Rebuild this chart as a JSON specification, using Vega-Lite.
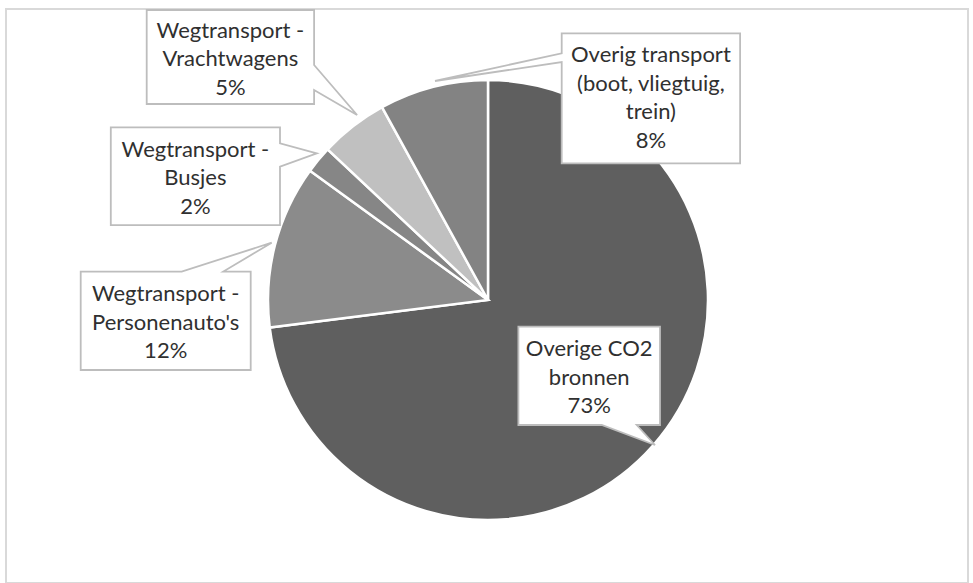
{
  "$schema": "https://vega.github.io/schema/vega-lite/v6.json",
  "width": 962,
  "height": 574,
  "padding": {"left": 6, "top": 9, "right": 5, "bottom": 0},
  "autosize": {"type": "none"},
  "background": "white",
  "config": {
    "view": {"stroke": "#d9d9d9", "strokeWidth": 2}
  },
  "data": {
    "values": [
      {"category": "Overige CO2 bronnen", "value": 73, "rank": 1, "label": ["Overige CO2", "bronnen", "73%"]},
      {"category": "Wegtransport - Personenauto's", "value": 12, "rank": 2, "label": ["Wegtransport -", "Personenauto's", "12%"]},
      {"category": "Wegtransport - Busjes", "value": 2, "rank": 3, "label": ["Wegtransport -", "Busjes", "2%"]},
      {"category": "Wegtransport - Vrachtwagens", "value": 5, "rank": 4, "label": ["Wegtransport -", "Vrachtwagens", "5%"]},
      {"category": "Overig transport (boot, vliegtuig, trein)", "value": 8, "rank": 5, "label": ["Overig transport", "(boot, vliegtuig,", "trein)", "8%"]}
    ]
  },
  "layer": [
    {
      "mark": {"type": "arc", "radius": 220, "stroke": "white", "strokeWidth": 2.5, "xOffset": 1, "yOffset": 4},
      "encoding": {
        "theta": {"field": "value", "type": "quantitative", "stack": true},
        "order": {"field": "rank", "type": "quantitative"},
        "color": {
          "field": "category",
          "type": "nominal",
          "scale": {
            "domain": ["Overige CO2 bronnen", "Wegtransport - Personenauto's", "Wegtransport - Busjes", "Wegtransport - Vrachtwagens", "Overig transport (boot, vliegtuig, trein)"],
            "range": ["#5f5f5f", "#8b8b8b", "#868686", "#c0c0c0", "#838383"]
          },
          "legend": null
        }
      }
    },
    {
      "mark": {"type": "point", "size": 4, "filled": true, "fill": "white", "stroke": "#bdbdbd", "strokeWidth": 1.8, "opacity": 1, "strokeJoin": "miter"},
      "encoding": {
        "x": {"field": "rank", "type": "quantitative", "axis": null, "scale": {"domain": [1, 2, 3, 4, 5], "range": [583.2, 159.7, 189.4, 224.4, 644.9], "zero": false, "nice": false}},
        "y": {"field": "rank", "type": "quantitative", "axis": null, "scale": {"domain": [1, 2, 3, 4, 5], "range": [366.8, 311.8, 167.2, 48, 89.3], "zero": false, "nice": false}},
        "shape": {
          "field": "category",
          "type": "nominal",
          "scale": {
            "domain": ["Overige CO2 bronnen", "Wegtransport - Personenauto's", "Wegtransport - Busjes", "Wegtransport - Vrachtwagens", "Overig transport (boot, vliegtuig, trein)"],
            "range": [
              "M-70.8,-49.2L70.8,-49.2L70.8,49.2L47.5,49.2L65.8,69.2L12.5,49.2L-70.8,49.2Z",
              "M-85,-49.2L16,-49.2L106,-78.1L57.6,-49.2L85,-49.2L85,49.2L-85,49.2Z",
              "M-84.6,-48.9L84.6,-48.9L84.6,-32.9L121.4,-22.9L84.6,-9.5L84.6,48.9L-84.6,48.9Z",
              "M-83.7,-47L83.7,-47L83.7,8L126.7,58L83.7,33L83.7,47L-83.7,47Z",
              "M-89.2,-65L89.2,-65L89.2,65L-89.2,65L-89.2,-36.3L-215.9,-17.3L-89.2,-45Z"
            ]
          },
          "legend": null
        }
      }
    },
    {
      "transform": [{"filter": "length(datum.label) == 3"}],
      "mark": {"type": "text", "font": "Lato", "fontSize": 22, "lineHeight": 28.5, "align": "center", "baseline": "middle", "fill": "#303030", "dy": -26.5},
      "encoding": {
        "x": {"field": "rank", "type": "quantitative"},
        "y": {"field": "rank", "type": "quantitative"},
        "text": {"field": "label"}
      }
    },
    {
      "transform": [{"filter": "length(datum.label) == 4"}],
      "mark": {"type": "text", "font": "Lato", "fontSize": 22, "lineHeight": 28.5, "align": "center", "baseline": "middle", "fill": "#303030", "dy": -43},
      "encoding": {
        "x": {"field": "rank", "type": "quantitative"},
        "y": {"field": "rank", "type": "quantitative"},
        "text": {"field": "label"}
      }
    }
  ]
}
